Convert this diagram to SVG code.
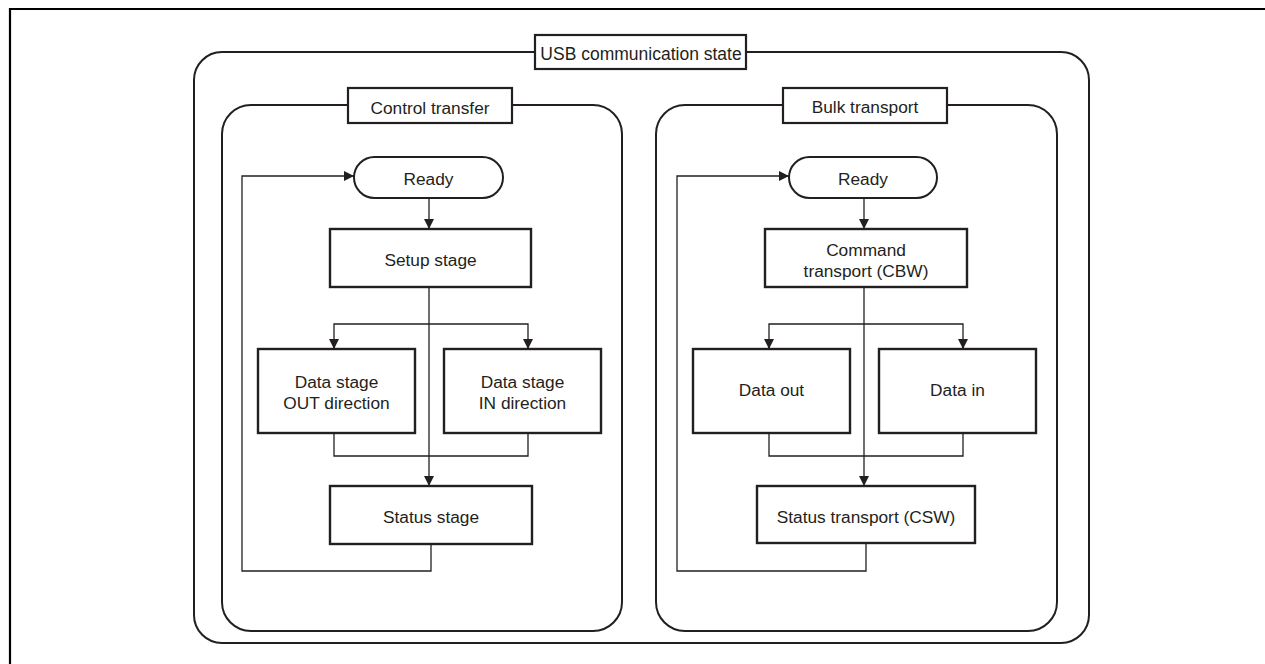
<svg xmlns="http://www.w3.org/2000/svg" width="1265" height="664" viewBox="0 0 1265 664">
<style>
.frame{fill:none;stroke:#000;stroke-width:2.2}
.group{fill:none;stroke:#231f20;stroke-width:2}
.lbl{fill:#fff;stroke:#231f20;stroke-width:2.2}
.box{fill:#fff;stroke:#231f20;stroke-width:2.4}
.con{fill:none;stroke:#231f20;stroke-width:1.3}
text{font-family:"Liberation Sans",Arial,sans-serif;font-size:17.3px;fill:#231f20;text-anchor:middle}
</style>
<defs>
<marker id="ah" viewBox="0 0 10 10" refX="10" refY="5" markerWidth="10" markerHeight="10" markerUnits="userSpaceOnUse" orient="auto">
<path d="M0,0 L10,5 L0,10 Z" fill="#231f20"/>
</marker>
</defs>
<path class="frame" d="M10,664 V9 H1265"/>
<g id="usb-state">
<rect class="group" x="194" y="52" width="895" height="591" rx="28" ry="28"/>
<rect class="lbl" x="535" y="35" width="211" height="34"/>
<text x="641" y="59.5" style="font-size:17.5px">USB communication state</text>
</g>
<g id="control-transfer">
<rect class="group" x="222" y="105" width="400" height="526" rx="29" ry="29"/>
<rect class="lbl" x="348" y="88" width="164" height="35"/>
<text x="430" y="113.5">Control transfer</text>
</g>
<g id="bulk-transport">
<rect class="group" x="656" y="105" width="401" height="526" rx="29" ry="29"/>
<rect class="lbl" x="783" y="88" width="164" height="35"/>
<text x="865" y="113">Bulk transport</text>
</g>
<g id="connectors">
<line class="con" x1="429" y1="198" x2="429" y2="229" marker-end="url(#ah)"/>
<line class="con" x1="429" y1="287" x2="429" y2="486" marker-end="url(#ah)"/>
<path class="con" d="M334,349 V324 H528 V349"/>
<line class="con" x1="334" y1="339" x2="334" y2="349" marker-end="url(#ah)"/>
<line class="con" x1="528" y1="339" x2="528" y2="349" marker-end="url(#ah)"/>
<path class="con" d="M334,433 V456 H528 V433"/>
<path class="con" d="M431,544 V571 H242 V176 H354" marker-end="url(#ah)"/>
<line class="con" x1="864" y1="198" x2="864" y2="229" marker-end="url(#ah)"/>
<line class="con" x1="864" y1="287" x2="864" y2="486" marker-end="url(#ah)"/>
<path class="con" d="M769,349 V324 H963 V349"/>
<line class="con" x1="769" y1="339" x2="769" y2="349" marker-end="url(#ah)"/>
<line class="con" x1="963" y1="339" x2="963" y2="349" marker-end="url(#ah)"/>
<path class="con" d="M769,433 V456 H963 V433"/>
<path class="con" d="M866,543 V571 H677 V176 H789" marker-end="url(#ah)"/>
</g>
<g id="ct-ready">
<rect class="box" x="354" y="157" width="149" height="41" rx="20.5" ry="20.5" style="stroke-width:2"/>
<text x="428.5" y="184.5">Ready</text>
</g>
<g id="ct-setup">
<rect class="box" x="330" y="229" width="201" height="58"/>
<text x="430.5" y="266">Setup stage</text>
</g>
<g id="ct-data-out">
<rect class="box" x="258" y="349" width="157" height="84"/>
<text x="336.5" y="387.5">Data stage</text>
<text x="336.5" y="409">OUT direction</text>
</g>
<g id="ct-data-in">
<rect class="box" x="444" y="349" width="157" height="84"/>
<text x="522.5" y="387.5">Data stage</text>
<text x="522.5" y="409">IN direction</text>
</g>
<g id="ct-status">
<rect class="box" x="330" y="486" width="202" height="58"/>
<text x="431" y="523">Status stage</text>
</g>
<g id="bt-ready">
<rect class="box" x="789" y="157" width="148" height="41" rx="20.5" ry="20.5" style="stroke-width:2"/>
<text x="863" y="184.5">Ready</text>
</g>
<g id="bt-command">
<rect class="box" x="765" y="229" width="202" height="58"/>
<text x="866" y="255.5">Command</text>
<text x="866" y="277">transport (CBW)</text>
</g>
<g id="bt-data-out">
<rect class="box" x="693" y="349" width="157" height="84"/>
<text x="771.5" y="395.5">Data out</text>
</g>
<g id="bt-data-in">
<rect class="box" x="879" y="349" width="157" height="84"/>
<text x="957.5" y="395.5">Data in</text>
</g>
<g id="bt-status">
<rect class="box" x="757" y="486" width="218" height="57"/>
<text x="866" y="523">Status transport (CSW)</text>
</g>
</svg>
